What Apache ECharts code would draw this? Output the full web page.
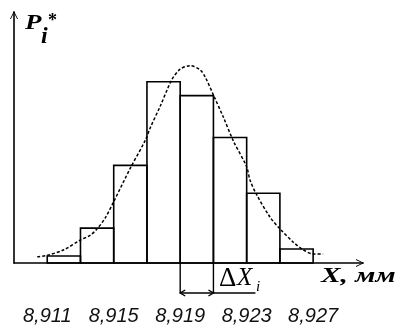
<!DOCTYPE html>
<html>
<head>
<meta charset="utf-8">
<script src="https://cdn.jsdelivr.net/npm/echarts@6/dist/echarts.min.js"></script>
<style>
html,body{margin:0;padding:0;background:#fff}
#chart{width:396px;height:331px}
</style>
</head>
<body>
<div id="chart"></div>
<script>
// bins of X, mm (left edge, right edge) and relative frequencies P*
var binLeft = [8.911, 8.913, 8.915, 8.917, 8.919, 8.921, 8.923, 8.925]
var binRight = [8.913, 8.915, 8.917, 8.919, 8.921, 8.923, 8.925, 8.927]
var freq = [0.01, 0.05, 0.14, 0.26, 0.24, 0.18, 0.10, 0.02]
// fitted curve
var curveX = [8.9104, 8.9110, 8.9120, 8.9130, 8.9136, 8.9140, 8.9145, 8.9150, 8.9160, 8.9169, 8.9172,
  8.9178, 8.9185, 8.9190, 8.9196, 8.9202, 8.9205, 8.9210, 8.9216, 8.9222, 8.9230, 8.9232, 8.9236,
  8.9244, 8.9250, 8.9258, 8.9264, 8.9270, 8.9276]
var curveY = [0.009, 0.011, 0.019, 0.033, 0.040, 0.049, 0.065, 0.088, 0.136, 0.176, 0.194,
  0.225, 0.263, 0.278, 0.283, 0.277, 0.267, 0.241, 0.209, 0.175, 0.138, 0.119, 0.098,
  0.066, 0.049, 0.030, 0.019, 0.013, 0.013]
var tickLabels = [8.911, 8.915, 8.919, 8.923, 8.927]
var deltaBin = [8.919, 8.921]

var bins = binLeft.map(function(l, i){ return [l, binRight[i], freq[i]] })
var curve = curveX.map(function(x, i){ return [x, curveY[i]] })

var chevron = 'path://M0,0 L6,12 L4.6,12 L0,2.6 L-4.6,12 L-6,12 Z'

var chart = echarts.init(document.getElementById('chart'))
chart.setOption({
  animation: false,
  backgroundColor: '#fff',
  grid: { left: 14, right: 33, top: 12, bottom: 68 },
  xAxis: {
    type: 'value', min: 8.909, max: 8.930,
    axisLine: { lineStyle: { color: '#000', width: 1.6 }, symbol: ['none', chevron], symbolSize: [8, 10], symbolOffset: [0, -3] },
    axisTick: { show: false },
    splitLine: { show: false },
    axisLabel: {
      customValues: tickLabels,
      margin: 43,
      fontSize: 20, fontStyle: 'italic', fontFamily: 'Liberation Sans', color: '#111',
      formatter: function(v){ return v.toFixed(3).replace('.', ',') }
    }
  },
  yAxis: {
    type: 'value', min: 0, max: 0.36,
    axisLine: { show: true, lineStyle: { color: '#000', width: 1.6 }, symbol: ['none', chevron], symbolSize: [8, 10], symbolOffset: [0, -3] },
    axisTick: { show: false },
    axisLabel: { show: false },
    splitLine: { show: false }
  },
  series: [
    {
      type: 'custom',
      data: bins,
      renderItem: function(params, api){
        var a = api.coord([api.value(0), api.value(2)])
        var b = api.coord([api.value(1), 0])
        return {
          type: 'rect',
          shape: { x: a[0], y: a[1], width: b[0] - a[0], height: b[1] - a[1] },
          style: { fill: 'none', stroke: '#000', lineWidth: 1.6 }
        }
      },
      z: 2
    },
    {
      type: 'custom',
      data: [deltaBin],
      renderItem: function(params, api){
        var a = api.coord([api.value(0), 0])
        var b = api.coord([api.value(1), 0])
        var y = a[1] + 30
        var s = { stroke: '#000', lineWidth: 1.4, fill: 'none' }
        return {
          type: 'group',
          children: [
            { type: 'line', shape: { x1: a[0], y1: a[1], x2: a[0], y2: y }, style: s },
            { type: 'line', shape: { x1: b[0], y1: a[1], x2: b[0], y2: y }, style: s },
            { type: 'line', shape: { x1: a[0], y1: y, x2: b[0] + 42, y2: y }, style: s },
            { type: 'polyline', shape: { points: [[a[0] + 5, y - 3], [a[0], y], [a[0] + 5, y + 3]] }, style: s },
            { type: 'polyline', shape: { points: [[b[0] - 5, y - 3], [b[0], y], [b[0] - 5, y + 3]] }, style: s }
          ]
        }
      },
      z: 3
    },
    {
      type: 'line',
      data: curve,
      smooth: 0.3,
      showSymbol: false,
      lineStyle: { color: '#000', width: 1.5, type: [3, 2] },
      z: 4
    }
  ],
  graphic: [
    { type: 'text', x: 25, y: 14, scaleX: 1.35, style: { text: 'P', font: 'italic bold 20px "Liberation Serif"', fill: '#000', verticalAlign: 'top' } },
    { type: 'text', x: 41, y: 25, style: { text: 'i', font: 'italic bold 24px "Liberation Serif"', fill: '#000', verticalAlign: 'top' } },
    { type: 'text', x: 48, y: 12, style: { text: '*', font: 'bold 18px "Liberation Serif"', fill: '#000', verticalAlign: 'top' } },
    { type: 'text', x: 321, y: 266, scaleX: 1.4, style: { text: 'X, мм', font: 'italic bold 21px "Liberation Serif"', fill: '#000', verticalAlign: 'top' } },
    { type: 'text', x: 219, y: 265, style: { text: 'Δ', font: '27px "Liberation Serif"', fill: '#000', verticalAlign: 'top' } },
    { type: 'text', x: 237, y: 266, style: { text: 'X', font: 'italic 25px "Liberation Serif"', fill: '#000', verticalAlign: 'top' } },
    { type: 'text', x: 256, y: 280, style: { text: 'i', font: 'italic 15px "Liberation Serif"', fill: '#000', verticalAlign: 'top' } }
  ]
})
</script>
</body>
</html>
